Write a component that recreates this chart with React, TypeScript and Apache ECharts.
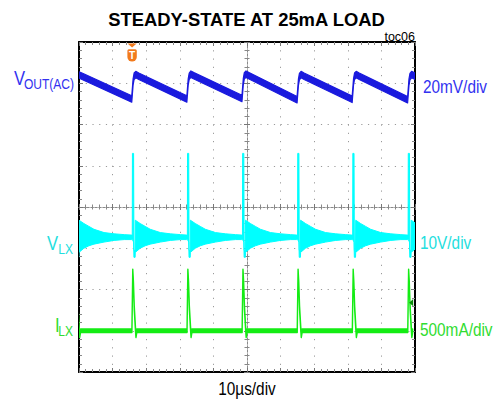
import React, { useEffect, useRef } from 'react';
import * as echarts from 'echarts';

// ---------- texts ----------
const TITLE = 'STEADY-STATE AT 25mA LOAD';
const FIG_ID = 'toc06';
const X_LABEL = '10µs/div';
const VOUT_NAME = ['V', 'OUT(AC)'];
const VLX_NAME = ['V', 'LX'];
const ILX_NAME = ['I', 'LX'];
const VOUT_SCALE = '20mV/div';
const VLX_SCALE = '10V/div';
const ILX_SCALE = '500mA/div';

// ---------- axes (time in µs, vertical in divisions) ----------
const TIME_MIN = 0;
const TIME_MAX = 100;
const TIME_STEP = 10;
const DIV_MIN = -4;
const DIV_MAX = 4;

// ---------- VOUT(AC): centre of the trace [µs, div] ----------
const VOUT_CENTER: [number, number][] = [
  [0, 3.2], [0.9, 3.17],
  [15.7, 2.62], [16.1, 3.03], [16.4, 3.17], [16.9, 3.21], [17.8, 3.17],
  [32.1, 2.62], [32.5, 3.03], [32.8, 3.17], [33.3, 3.22], [34.2, 3.18],
  [48.5, 2.63], [48.9, 3.04], [49.2, 3.18], [49.7, 3.22], [50.6, 3.18],
  [64.9, 2.6], [65.3, 3.02], [65.6, 3.16], [66.1, 3.21], [67.0, 3.17],
  [81.3, 2.61], [81.7, 3.03], [82.0, 3.17], [82.5, 3.21], [83.4, 3.17],
  [97.8, 2.6], [98.2, 3.02], [98.5, 3.16], [99.0, 3.21], [100, 3.17],
];
const VOUT_NOISE = 0.078; // half width of the noisy band, div

// ---------- switching instants (µs) ----------
const SPIKE_TIMES = [-0.85, 15.9, 32.3, 48.7, 65.1, 81.5, 98.0];

// ---------- VLX: one switching cycle [µs after switching, lower, upper] ----------
const VLX_CYCLE: [number, number, number][] = [
  [-0.3, -0.79, -0.68],
  [-0.05, -0.79, -0.68],
  [0.0, -0.79, 1.3],
  [0.35, -0.85, 1.3],
  [0.45, -1.22, -1.05],
  [0.8, -1.22, -1.05],
  [0.85, -1.1, -0.32],
  [2.3, -1.0, -0.4],
  [3.8, -0.94, -0.47],
  [5.3, -0.9, -0.54],
  [8.3, -0.85, -0.62],
  [11.3, -0.81, -0.65],
  [14.3, -0.79, -0.67],
];

// ---------- ILX: one switching cycle [µs after switching, centre] ----------
const ILX_CYCLE: [number, number][] = [
  [-0.3, -3.0], [-0.15, -3.0], [0.1, -1.55], [0.3, -1.85],
  [0.55, -2.45], [0.9, -2.95], [1.05, -3.12], [1.3, -3.0],
];
const ILX_NOISE = 0.045;

const TRIGGER_TIME = 15.8;
const ILX_MARKER_LEVEL = -2.32;

// ---------- colours ----------
const C_VOUT = '#1a1ade';
const C_VOUT_LABEL = '#3232f0';
const C_VLX = '#00ffff';
const C_VLX_LABEL = '#22dede';
const C_ILX = '#14ec14';
const C_ILX_LABEL = '#30dc30';
const FONT = '"Liberation Sans", Arial, Helvetica, sans-serif';

type Band = [number, number, number][];

const voutBand: Band = VOUT_CENTER.map(([t, v]) => [t, v - VOUT_NOISE, v + VOUT_NOISE]);
const vlxBand: Band = [];
SPIKE_TIMES.forEach((s) => VLX_CYCLE.forEach(([dt, lo, hi]) => vlxBand.push([s + dt, lo, hi])));
const ilxBand: Band = [];
SPIKE_TIMES.forEach((s) => ILX_CYCLE.forEach(([dt, c]) => ilxBand.push([s + dt, c - ILX_NOISE, c + ILX_NOISE])));

function bandSeries(name: string, pts: Band, color: string, strokeW: number) {
  return {
    type: 'custom',
    name,
    xAxisIndex: 0,
    yAxisIndex: 0,
    clip: true,
    silent: true,
    data: pts,
    encode: { x: 0, y: [1, 2] },
    renderItem: (params: any, api: any) => {
      if (params.dataIndex !== 0) return null;
      const upper = pts.map((p) => api.coord([p[0], p[2]]));
      const lower = pts.map((p) => api.coord([p[0], p[1]])).reverse();
      return {
        type: 'polygon',
        shape: { points: upper.concat(lower) },
        style: { fill: color, stroke: color, lineWidth: strokeW, lineJoin: 'round' },
      };
    },
  };
}

const GRID = { left: 79, top: 42, width: 336, height: 330 };

function frameX(position: string, split: boolean) {
  return {
    gridIndex: 0, type: 'value', min: TIME_MIN, max: TIME_MAX, interval: TIME_STEP, position,
    axisLine: { show: true, onZero: false, lineStyle: { color: '#000', width: 2 } },
    axisTick: { show: true, inside: true, length: 4, lineStyle: { color: '#777' } },
    minorTick: { show: true, splitNumber: 5, length: 3, lineStyle: { color: '#888' } },
    axisLabel: { show: false },
    splitLine: { show: split, lineStyle: { color: '#9a9a9a', width: 1, type: [1.2, 7.05] } },
  };
}
function frameY(position: string, split: boolean) {
  return {
    gridIndex: 0, type: 'value', min: DIV_MIN, max: DIV_MAX, interval: 1, position,
    axisLine: { show: true, onZero: false, lineStyle: { color: '#000', width: 2 } },
    axisTick: { show: true, inside: true, length: 4, lineStyle: { color: '#777' } },
    minorTick: { show: true, splitNumber: 5, length: 3, lineStyle: { color: '#888' } },
    axisLabel: { show: false },
    splitLine: { show: split, lineStyle: { color: '#9a9a9a', width: 1, type: [1.2, 5.52] } },
  };
}
function centreX(gridIndex: number, inside: boolean) {
  const half = (TIME_MAX - TIME_MIN) / 2;
  return {
    gridIndex, type: 'value', min: -half, max: half, interval: TIME_STEP,
    axisLine: { show: true, onZero: true, lineStyle: { color: '#8a8a8a', width: 1, type: [2, 2] } },
    axisTick: { show: true, inside, length: 3, lineStyle: { color: '#777' } },
    minorTick: { show: true, splitNumber: 5, length: 2.5, lineStyle: { color: '#888' } },
    axisLabel: { show: false },
    splitLine: { show: false },
  };
}
function centreY(gridIndex: number, inside: boolean) {
  return {
    gridIndex, type: 'value', min: DIV_MIN, max: DIV_MAX, interval: 1,
    axisLine: { show: true, onZero: true, lineStyle: { color: '#8a8a8a', width: 1, type: [2, 2] } },
    axisTick: { show: true, inside, length: 3, lineStyle: { color: '#777' } },
    minorTick: { show: true, splitNumber: 5, length: 2.5, lineStyle: { color: '#888' } },
    axisLabel: { show: false },
    splitLine: { show: false },
  };
}

function txt(text: string, x: number, y: number, size: number, color: string, align: string, opts: any = {}) {
  return {
    type: 'text', x, y, scaleX: opts.scaleX ?? 1, z: 100,
    style: {
      text, fill: color, fontSize: size, fontFamily: FONT, fontWeight: opts.bold ? 'bold' : 'normal',
      align, verticalAlign: 'middle',
    },
  };
}

const NARROW = 0.83;

export default function App() {
  const ref = useRef<HTMLDivElement>(null);
  useEffect(() => {
    document.body.style.margin = '0';
    const chart = echarts.init(ref.current!, null, { renderer: 'svg' });
    chart.setOption({
      animation: false,
      backgroundColor: '#fff',
      grid: [
        { ...GRID, show: false },
        { ...GRID, show: false },
        { ...GRID, show: false },
      ],
      xAxis: [frameX('bottom', true), frameX('top', false), centreX(1, false), centreX(2, true)],
      yAxis: [frameY('left', true), frameY('right', false), centreY(1, false), centreY(2, true)],
      series: [
        bandSeries('VOUT', voutBand, C_VOUT, 1.2),
        bandSeries('VLX', vlxBand, C_VLX, 1.0),
        bandSeries('ILX', ilxBand, C_ILX, 1.4),
      ],
    });
    const [tx, ty] = chart.convertToPixel({ seriesIndex: 0 }, [TRIGGER_TIME, DIV_MAX]) as number[];
    const [ax, ay] = chart.convertToPixel({ seriesIndex: 0 }, [TIME_MAX, ILX_MARKER_LEVEL]) as number[];
    const orange = '#f27a1c';
    chart.setOption({
      graphic: [
        txt(TITLE, 246.5, 19.4, 18.4, '#000', 'center', { bold: true }),
        txt(FIG_ID, 415, 37.3, 12.5, '#000', 'right'),
        txt(VOUT_NAME[0], 14, 77.5, 20, C_VOUT_LABEL, 'left', { scaleX: NARROW }),
        txt(VOUT_NAME[1], 74, 84, 14.5, C_VOUT_LABEL, 'right', { scaleX: NARROW }),
        txt(VOUT_SCALE, 423, 86.7, 18.5, C_VOUT_LABEL, 'left', { scaleX: NARROW }),
        txt(VLX_NAME[0], 47, 243, 20, C_VLX_LABEL, 'left', { scaleX: NARROW }),
        txt(VLX_NAME[1], 73, 249, 14.5, C_VLX_LABEL, 'right', { scaleX: NARROW }),
        txt(VLX_SCALE, 420, 243, 18.5, C_VLX_LABEL, 'left', { scaleX: NARROW }),
        txt(ILX_NAME[0], 55, 325, 20, C_ILX_LABEL, 'left', { scaleX: NARROW }),
        txt(ILX_NAME[1], 73, 331, 14.5, C_ILX_LABEL, 'right', { scaleX: NARROW }),
        txt(ILX_SCALE, 420, 330, 18.5, C_ILX_LABEL, 'left', { scaleX: NARROW }),
        txt(X_LABEL, 247, 389, 18.5, '#000', 'center', { scaleX: NARROW }),
        {
          type: 'polygon', z: 100,
          shape: { points: [[tx - 4.6, ty + 1.5], [tx + 4.6, ty + 1.5], [tx, ty + 5.5]] },
          style: { fill: orange },
        },
        {
          type: 'rect', z: 100,
          shape: { x: tx - 4.7, y: ty + 7.2, width: 9.4, height: 12.4, r: [1.5, 1.5, 4.7, 4.7] },
          style: { fill: orange },
        },
        txt('T', tx, ty + 13.4, 10, '#fff', 'center', { bold: true }),
        {
          type: 'polygon', z: 100,
          shape: { points: [[ax - 5.8, ay], [ax - 1.8, ay - 3.6], [ax - 1.8, ay + 3.6]] },
          style: { fill: '#0b8a0b' },
        },
      ],
    });
    return () => chart.dispose();
  }, []);
  return <div ref={ref} style={{ width: 498, height: 404 }} />;
}
